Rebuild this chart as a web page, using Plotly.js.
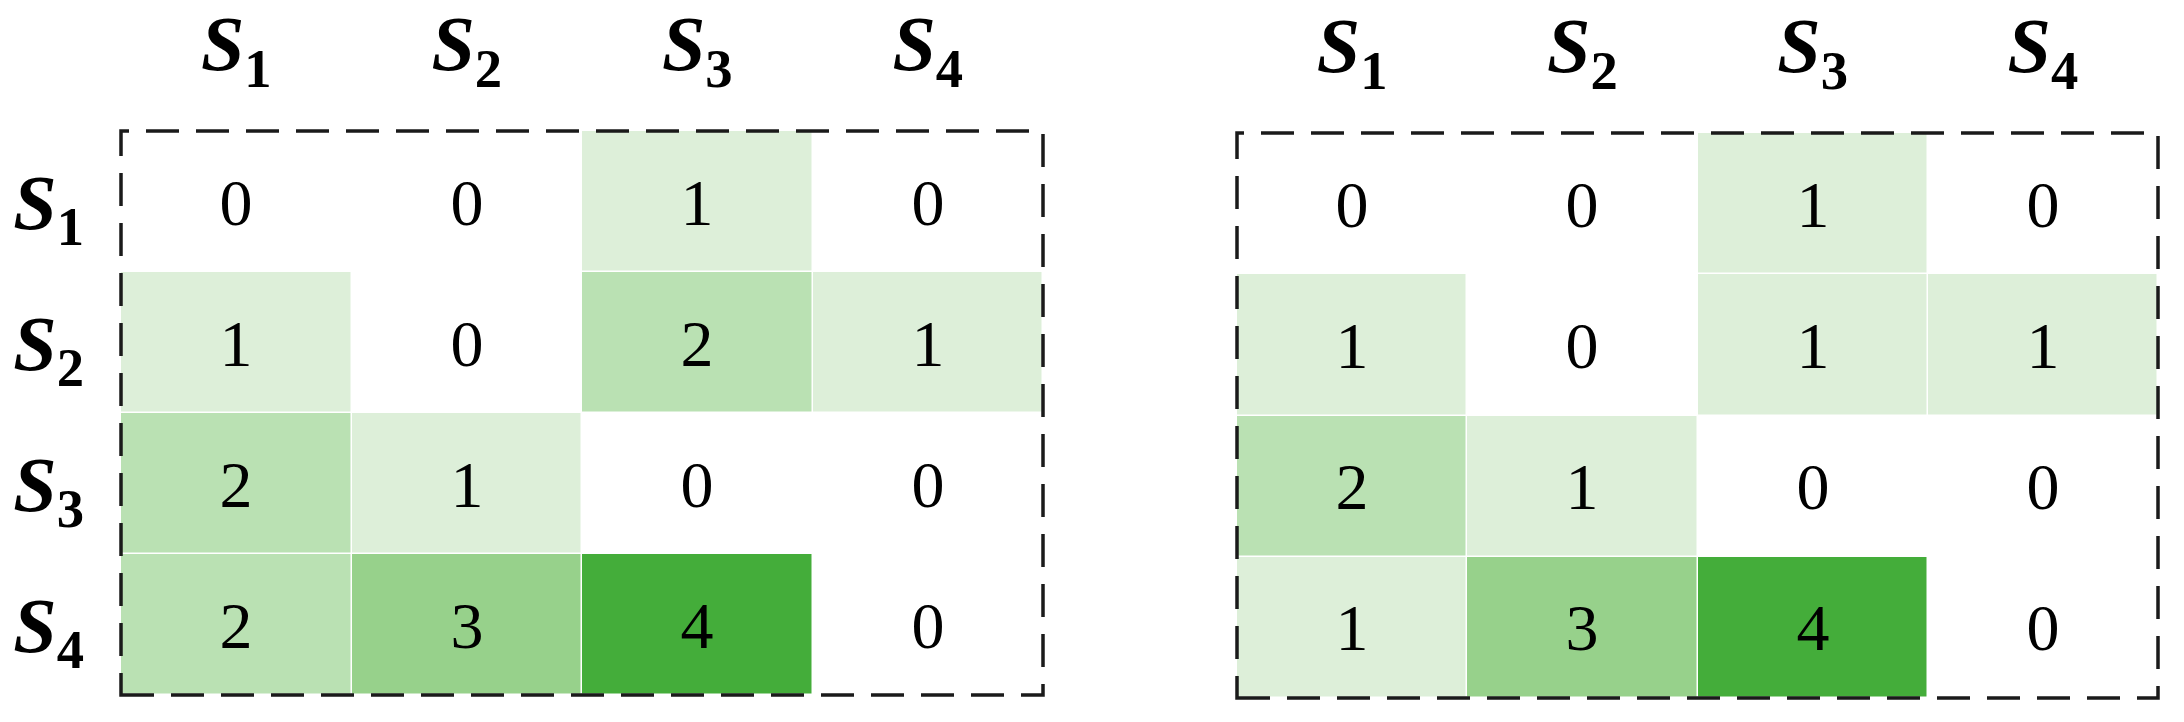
<!DOCTYPE html>
<html>
<head>
<meta charset="utf-8">
<script src="https://cdn.plot.ly/plotly-3.0.1.min.js"></script>
<style>html,body{margin:0;padding:0;background:#fff;}#chart{width:2184px;height:722px;}</style>
</head>
<body>
<div id="chart"></div>
<script>
const states = ['S1', 'S2', 'S3', 'S4'];
const stateLabels = ['<b><i>S</i></b><b><sub>1</sub></b>', '<b><i>S</i></b><b><sub>2</sub></b>', '<b><i>S</i></b><b><sub>3</sub></b>', '<b><i>S</i></b><b><sub>4</sub></b>'];
const leftValues = [
  [0, 0, 1, 0],
  [1, 0, 2, 1],
  [2, 1, 0, 0],
  [2, 3, 4, 0]
];
const rightValues = [
  [0, 0, 1, 0],
  [1, 0, 1, 1],
  [2, 1, 0, 0],
  [1, 3, 4, 0]
];
const greens = [
  [0, '#ffffff'],
  [0.25, '#ddefd9'],
  [0.5, '#bae1b3'],
  [0.75, '#97d18b'],
  [1, '#44ad3a']
];
const serif = 'Liberation Serif';

function hm(z, xa, ya) {
  return {
    type: 'heatmap', z: z, x: states, y: states, xaxis: xa, yaxis: ya,
    zmin: 0, zmax: 4, colorscale: greens, showscale: false,
    xgap: 1.5, ygap: 1.5,
    texttemplate: '%{z}',
    textfont: {family: serif, size: 66, color: '#000000'},
    hoverinfo: 'skip'
  };
}

const labelFont = {family: serif, size: 78, color: '#000000'};
function xAxis(domain, anchor) {
  return {domain: domain, anchor: anchor, side: 'top', type: 'category',
    tickvals: states, ticktext: stateLabels, tickfont: labelFont,
    showgrid: false, zeroline: false, showline: false, ticks: '', ticklabelstandoff: 44, fixedrange: true};
}
function yAxis(domain, anchor, show) {
  return {domain: domain, anchor: anchor, type: 'category', autorange: 'reversed',
    tickvals: states, ticktext: stateLabels, tickfont: labelFont, showticklabels: show,
    showgrid: false, zeroline: false, showline: false, ticks: '', ticklabelstandoff: 36, fixedrange: true};
}

const dashStyle = {color: '#1a1a1a', width: 3.5, dash: '33px,17px'};
const layout = {
  width: 2184, height: 722,
  margin: {l: 0, r: 0, t: 0, b: 0},
  paper_bgcolor: '#ffffff', plot_bgcolor: '#ffffff',
  font: {family: serif},
  showlegend: false,
  xaxis: xAxis([121/2184, 1043/2184], 'y'),
  yaxis: yAxis([(722-695)/722, (722-131)/722], 'x', true),
  xaxis2: xAxis([1237/2184, 2158/2184], 'y2'),
  yaxis2: yAxis([(722-698)/722, (722-133)/722], 'x2', false),
  shapes: [
    {type: 'rect', xref: 'x domain', yref: 'y domain', x0: 0, x1: 1, y0: 0, y1: 1, line: dashStyle, layer: 'above'},
    {type: 'rect', xref: 'x2 domain', yref: 'y2 domain', x0: 0, x1: 1, y0: 0, y1: 1, line: dashStyle, layer: 'above'}
  ]
};

Plotly.newPlot('chart', [hm(leftValues, 'x', 'y'), hm(rightValues, 'x2', 'y2')], layout, {displayModeBar: false, staticPlot: true});
</script>
</body>
</html>
